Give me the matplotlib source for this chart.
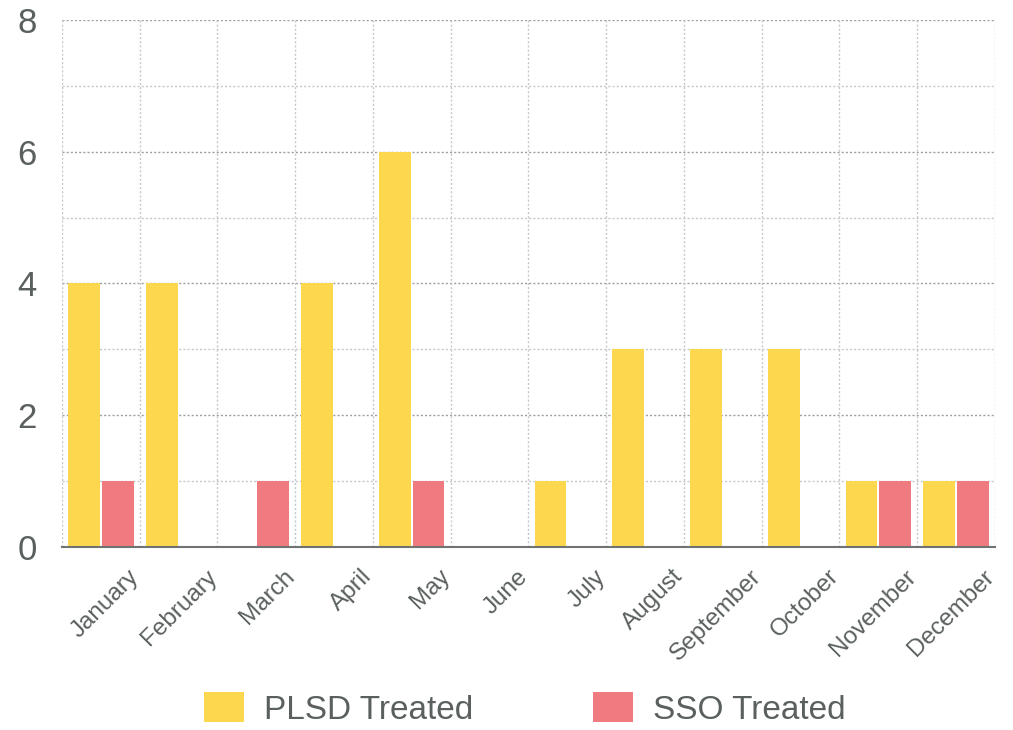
import numpy as np
import matplotlib
matplotlib.use('Agg')
import matplotlib.pyplot as plt
import matplotlib.transforms as mtransforms
from matplotlib.patches import Patch

months = ['January', 'February', 'March', 'April', 'May', 'June',
          'July', 'August', 'September', 'October', 'November', 'December']
plsd_treated = [4, 4, 0, 4, 6, 0, 1, 3, 3, 3, 1, 1]
sso_treated = [1, 0, 1, 0, 1, 0, 0, 0, 0, 0, 1, 1]

yellow = '#fdd74e'
red = '#ef7b80'
text_col = '#5a605e'

plt.rcParams['font.family'] = ['Liberation Sans', 'DejaVu Sans']

fig = plt.figure(figsize=(10.13, 7.30), dpi=100)
ax = fig.add_axes([0.0612, 0.2507, 0.9208, 0.7219])

x = np.arange(len(months))
w = 0.41
ax.bar(x - 0.215, plsd_treated, w, color=yellow, zorder=3)
ax.bar(x + 0.215, sso_treated, w, color=red, zorder=3)

ax.set_xlim(-0.5, len(months) - 0.5)
ax.set_ylim(0, 8)

# grid
for yv in range(1, 9):
    ax.axhline(yv, color='#9a9fa3' if yv % 2 == 0 else '#c4c8cc',
               lw=1.0, ls=(0, (1.5, 1.5)), zorder=1)
for xv in np.arange(-0.5, len(months)):
    ax.axvline(xv, color='#c4c8cc', lw=1.0, ls=(0, (1.5, 1.5)), zorder=1)

for s in ['top', 'right', 'left']:
    ax.spines[s].set_visible(False)
ax.spines['bottom'].set_color('#6f7372')
ax.spines['bottom'].set_linewidth(1.5)
ax.spines['bottom'].set_zorder(4)

ax.set_yticks([0, 2, 4, 6, 8])
ax.tick_params(axis='y', length=0, pad=18, labelsize=25, labelcolor=text_col)
ax.set_xticks(x)
ax.set_xticklabels(months)
ax.tick_params(axis='x', length=0, pad=4, labelsize=17.5, labelcolor=text_col)
offset = mtransforms.ScaledTranslation(0.27, -0.13, fig.dpi_scale_trans)
for lab in ax.get_xticklabels():
    lab.set_rotation(45)
    lab.set_ha('right')
    lab.set_va('top')
    lab.set_rotation_mode('anchor')
    lab.set_transform(lab.get_transform() + offset)

handles = [Patch(facecolor=yellow, label='PLSD Treated'),
           Patch(facecolor=red, label='SSO Treated')]
leg = fig.legend(handles=handles, loc='lower center', ncol=2,
                 bbox_to_anchor=(0.518, -0.035), frameon=False,
                 fontsize=24, handlelength=1.2, handleheight=1.0,
                 handletextpad=0.6, columnspacing=3.6)
for t in leg.get_texts():
    t.set_color(text_col)

fig.savefig('out.png', dpi=100, facecolor='white')
